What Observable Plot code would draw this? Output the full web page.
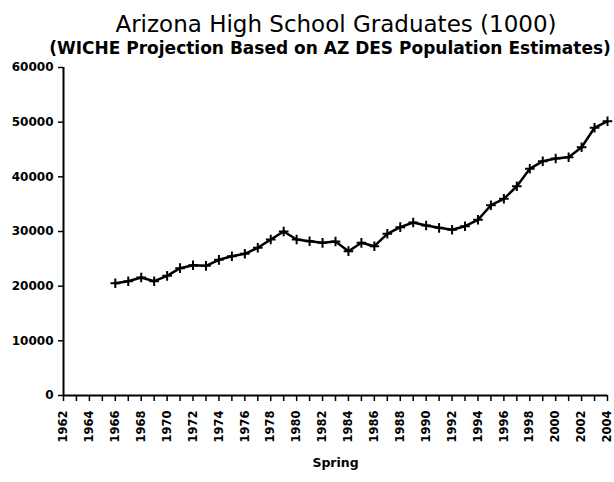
<!DOCTYPE html>
<html>
<head>
<meta charset="utf-8">
<script src="https://cdn.jsdelivr.net/npm/d3@7"></script>
<script src="https://cdn.jsdelivr.net/npm/@observablehq/plot@0.6"></script>
<style>
  html, body { margin: 0; padding: 0; background: white; }
  #wrap { position: relative; width: 614px; height: 482px; overflow: hidden; }
  #head { position: relative; height: 48px; }
  #title { position: absolute; left: 0; width: 672px; top: 11px; text-align: center;
           font-family: "DejaVu Sans", sans-serif; font-size: 23px; line-height: 26px; color: #000; z-index: 2; }
  #subtitle { position: absolute; left: 0; width: 660px; top: 39px; text-align: center;
              font-family: "DejaVu Sans", sans-serif; font-weight: bold; font-size: 17px; line-height: 19px; color: #000; z-index: 2; }
</style>
</head>
<body>
<div id="wrap">
  <div id="head">
    <div id="title">Arizona High School Graduates (1000)</div>
    <div id="subtitle">(WICHE Projection Based on AZ DES Population Estimates)</div>
  </div>
  <div id="chart"></div>
</div>
<script>
const years = [1966, 1967, 1968, 1969, 1970, 1971, 1972, 1973, 1974, 1975,
               1976, 1977, 1978, 1979, 1980, 1981, 1982, 1983, 1984, 1985,
               1986, 1987, 1988, 1989, 1990, 1991, 1992, 1993, 1994, 1995,
               1996, 1997, 1998, 1999, 2000, 2001, 2002, 2003, 2004];
const graduates = [20540, 20910, 21580, 20910, 21890, 23290, 23830, 23720, 24820, 25480,
                   25920, 27020, 28530, 30000, 28530, 28220, 27930, 28170, 26400, 27930,
                   27310, 29580, 30790, 31640, 31100, 30670, 30310, 30970, 32140, 34810,
                   35980, 38280, 41470, 42860, 43350, 43590, 45420, 48970, 50170];
const xTickYears = [1962, 1963, 1964, 1965, 1966, 1967, 1968, 1969, 1970, 1971, 1972,
                    1973, 1974, 1975, 1976, 1977, 1978, 1979, 1980, 1981, 1982, 1983,
                    1984, 1985, 1986, 1987, 1988, 1989, 1990, 1991, 1992, 1993, 1994,
                    1995, 1996, 1997, 1998, 1999, 2000, 2001, 2002, 2003, 2004];
const yTicks = [0, 10000, 20000, 30000, 40000, 50000, 60000];
const xLabel = "Spring";

const data = years.map((yr, i) => ({year: yr, grads: graduates[i]}));

const chart = Plot.plot({
  width: 614,
  height: 434,
  marginTop: 19,
  marginBottom: 87,
  marginLeft: 63,
  marginRight: 7,
  x: {domain: [1962, 2004]},
  y: {domain: [0, 60000]},
  style: {fontFamily: "DejaVu Sans, sans-serif", fontWeight: "bold", fontSize: "11.5px", color: "black", background: "white"},
  marks: [
    Plot.axisY({ticks: yTicks, tickSize: 5, tickPadding: 5, label: null, tickFormat: d => String(d), strokeWidth: 1.5, fontSize: 12}),
    Plot.axisX({ticks: xTickYears, tickSize: 6, tickPadding: 9, tickRotate: -90, label: null,
                tickFormat: d => (d % 2 === 0 ? String(d) : ""), strokeWidth: 1.5}),
    Plot.ruleY([0], {strokeWidth: 2}),
    Plot.ruleX([1962], {strokeWidth: 2}),
    Plot.line(data, {x: "year", y: "grads", stroke: "black", strokeWidth: 2.5}),
    Plot.dot(data, {x: "year", y: "grads", symbol: "plus", r: 3.2, stroke: "black", strokeWidth: 2}),
    Plot.text([xLabel], {frameAnchor: "bottom", dy: 71, fontSize: 12.5, fontWeight: "bold"})
  ]
});
document.getElementById("chart").appendChild(chart);
</script>
</body>
</html>
